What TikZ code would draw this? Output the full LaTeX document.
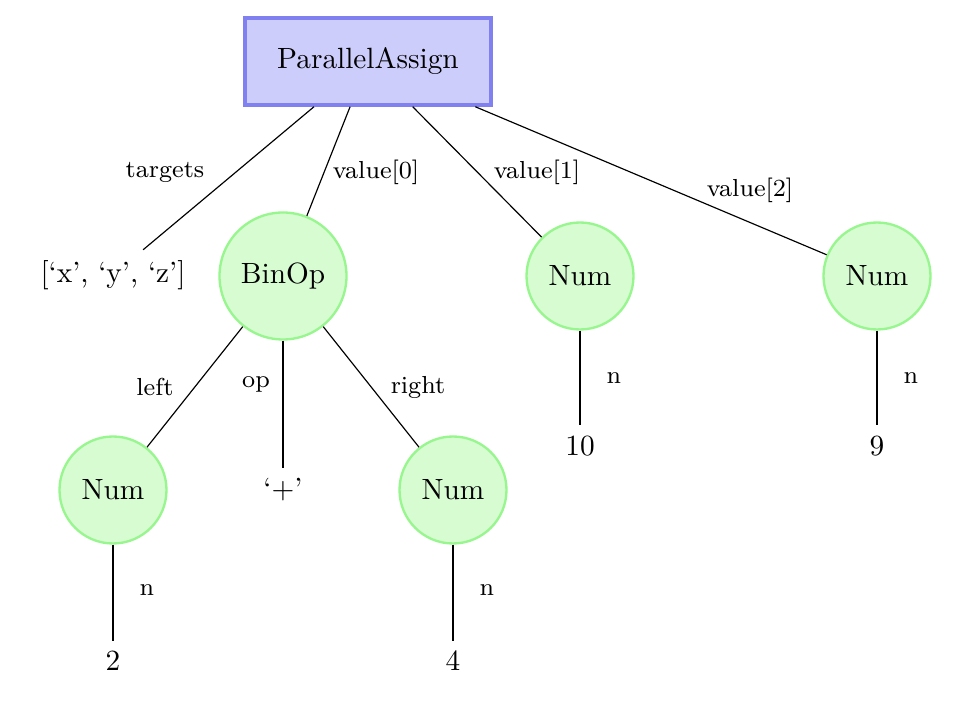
\documentclass[tikz,border=0pt]{standalone}
\definecolor{boxfill}{RGB}{205,205,252}
\definecolor{boxdraw}{RGB}{128,128,240}
\definecolor{circfill}{RGB}{215,252,210}
\definecolor{circdraw}{RGB}{152,246,142}
\begin{document}
\begin{tikzpicture}[x=0.3413pt,y=-0.3413pt,
  boxnode/.style={draw=boxdraw,fill=boxfill,line width=1.2pt,minimum width=246*0.3413pt,minimum height=87*0.3413pt,inner sep=0pt},
  bignode/.style={circle,draw=circdraw,fill=circfill,line width=0.8pt,minimum size=127*0.3413pt,inner sep=0pt},
  numnode/.style={circle,draw=circdraw,fill=circfill,line width=0.8pt,minimum size=107*0.3413pt,inner sep=0pt},
  leaf/.style={inner sep=3.4pt},
  elabel/.style={font=\fontsize{8.4}{10}\selectfont,inner sep=0pt},
  edge/.style={line width=0.4pt}]
\useasboundingbox (0,0) rectangle (974,722);
\node[boxnode] (pa) at (368,61.5) {ParallelAssign};
\node[leaf] (tg) at (113,275) {[`x', `y', `z']};
\node[bignode] (bin) at (283,276) {BinOp};
\node[numnode] (n1) at (580,276) {Num};
\node[numnode] (n2) at (877,276) {Num};
\node[numnode] (nl) at (113,490) {Num};
\node[leaf] (op) at (283,490) {`+'};
\node[numnode] (nr) at (453,490) {Num};
\node[leaf] (v10) at (580,446) {10};
\node[leaf] (v9) at (877,446) {9};
\node[leaf] (v2) at (113,661) {2};
\node[leaf] (v4) at (453,661) {4};

\draw[edge] (pa) -- (tg);
\draw[edge] (pa) -- (bin);
\draw[edge] (pa) -- (n1);
\draw[edge] (pa) -- (n2);
\draw[edge] (bin) -- (nl);
\draw[edge] (bin) -- (op);
\draw[edge] (bin) -- (nr);
\draw[edge] (n1) -- (v10);
\draw[edge] (n2) -- (v9);
\draw[edge] (nl) -- (v2);
\draw[edge] (nr) -- (v4);

\node[elabel] (lt) at (165,172) {targets};
\node[elabel] (l0) at (376,172) {value[0]};
\node[elabel] (l1) at (537,172) {value[1]};
\node[elabel] (l2) at (750,190) {value[2]};
\node[elabel] (ll) at (155,387) {left};
\node[elabel] (lo) at (256,384) {op};
\node[elabel] (lr) at (418,387) {right};
\node[elabel] (ln1) at (614,378) {n};
\node[elabel] (ln2) at (911,378) {n};
\node[elabel] (lnl) at (147,590) {n};
\node[elabel] (lnr) at (487,590) {n};
\end{tikzpicture}
\end{document}
